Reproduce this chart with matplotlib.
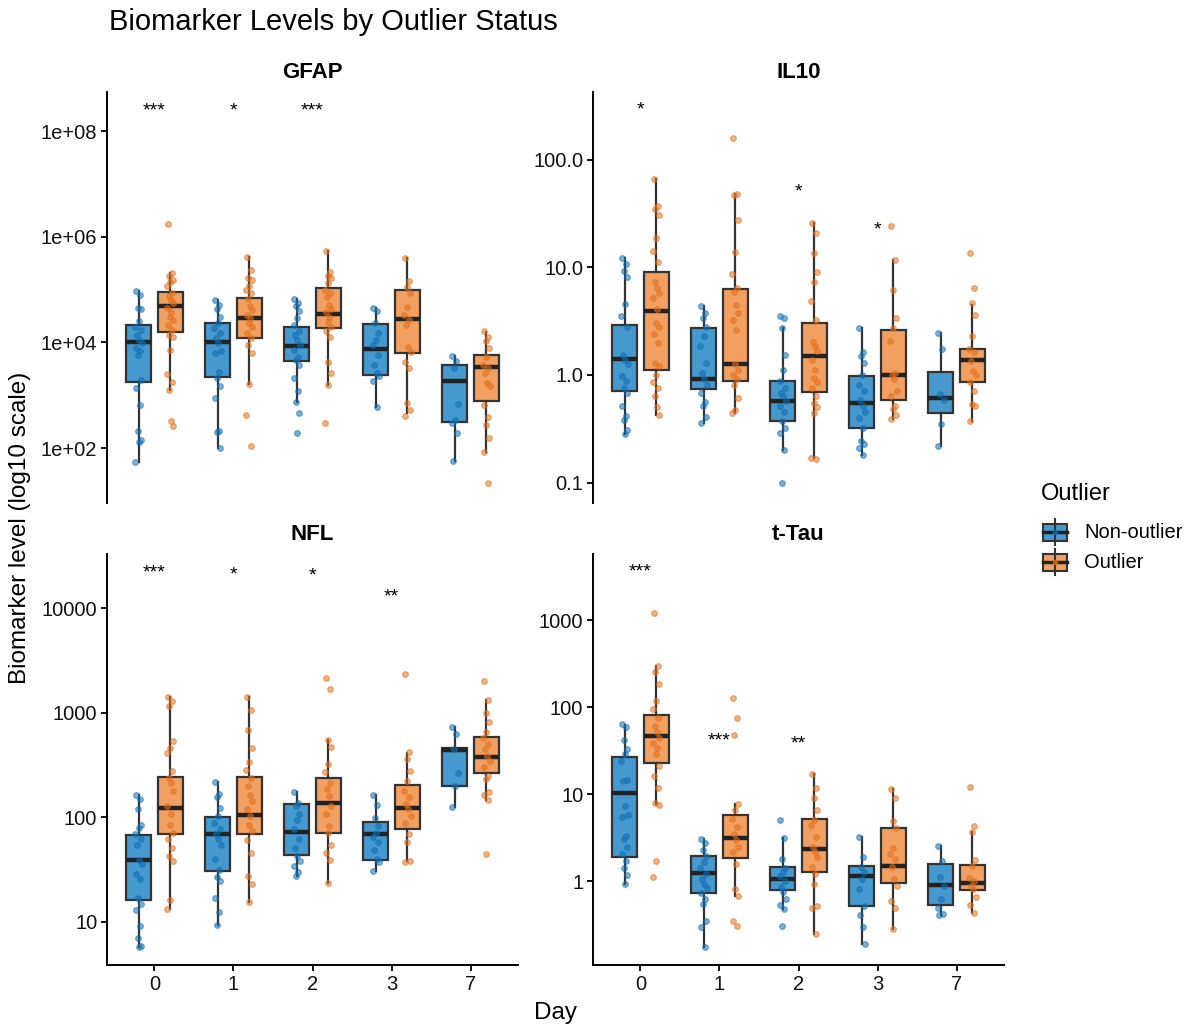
import numpy as np
import matplotlib
matplotlib.use('Agg')
from matplotlib import pyplot as plt
from matplotlib.patches import Rectangle

plt.rcParams['font.family'] = ['Liberation Sans', 'DejaVu Sans']

days = ['0', '1', '2', '3', '7']
groups = ['Non-outlier', 'Outlier']

# values below are read off the log axis, so they are kept as log10
# box stats per day: (lower whisker, q1, median, q3, upper whisker)
gfap_non = [
    [4.97, 4.90, 4.65, 4.63, 4.41, 4.30, 4.24, 4.14, 4.05, 3.99, 3.89, 3.84, 3.77, 3.28, 3.13, 2.81, 2.33, 2.16, 2.12, 1.73],
    [4.80, 4.71, 4.63, 4.49, 4.36, 4.27, 4.17, 4.08, 3.99, 3.83, 3.80, 3.44, 3.32, 3.17, 2.95, 2.33, 2.30, 2.01],
    [4.82, 4.75, 4.68, 4.60, 4.46, 4.33, 4.21, 4.14, 4.05, 3.95, 3.86, 3.73, 3.67, 3.58, 3.32, 3.08, 2.87, 2.66, 2.28],
    [4.65, 4.60, 4.36, 4.17, 4.05, 3.95, 3.77, 3.58, 3.43, 3.36, 3.26, 2.78],
    [3.75, 3.64, 3.51, 2.84, 2.54, 2.47, 2.28, 1.75],
]
gfap_out = [
    [6.24, 5.31, 5.26, 5.18, 5.15, 5.06, 4.93, 4.87, 4.80, 4.74, 4.65, 4.58, 4.49, 4.43, 4.33, 4.24, 4.14, 4.11, 3.85, 3.40, 3.25, 3.09, 2.52, 2.42],
    [5.62, 5.38, 5.21, 5.18, 5.07, 4.99, 4.93, 4.82, 4.68, 4.62, 4.52, 4.46, 4.36, 4.30, 4.17, 4.08, 3.95, 3.80, 3.22, 2.62, 2.03],
    [5.73, 5.33, 5.26, 5.21, 5.12, 4.99, 4.93, 4.86, 4.71, 4.63, 4.58, 4.49, 4.39, 4.30, 4.21, 4.11, 3.63, 3.42, 3.20, 2.47],
    [5.59, 5.17, 5.04, 4.93, 4.67, 4.52, 4.43, 4.33, 3.91, 3.81, 3.62, 3.51, 2.85, 2.72, 2.61],
    [4.21, 4.11, 4.02, 3.89, 3.73, 3.58, 3.51, 3.42, 3.23, 3.18, 2.81, 2.59, 2.44, 2.19, 1.92, 1.34],
]
gfap_box_non = [(1.73, 3.25, 4.00, 4.32, 4.97), (2.01, 3.34, 4.00, 4.36, 4.80), (2.87, 3.64, 3.94, 4.30, 4.82),
                (2.78, 3.39, 3.87, 4.35, 4.65), (1.75, 2.50, 3.27, 3.58, 3.75)]
gfap_box_out = [(3.10, 4.19, 4.69, 4.95, 5.31), (3.22, 4.09, 4.46, 4.84, 5.62), (3.20, 4.27, 4.53, 5.03, 5.73),
                (2.66, 3.80, 4.44, 4.99, 5.59), (1.92, 2.90, 3.53, 3.76, 4.19)]
gfap_stars = [(0, '***', 8.50), (1, '*', 8.50), (2, '***', 8.50)]

il10_non = [
    [1.09, 1.03, 0.97, 0.91, 0.66, 0.55, 0.45, 0.19, 0.14, 0.10, -0.01, -0.06, -0.12, -0.17, -0.29, -0.38, -0.42, -0.51, -0.55],
    [0.64, 0.58, 0.53, 0.45, 0.36, 0.27, 0.11, 0.02, -0.04, -0.09, -0.17, -0.25, -0.29, -0.39, -0.45],
    [0.55, 0.53, 0.44, 0.19, 0.05, -0.06, -0.12, -0.17, -0.20, -0.24, -0.29, -0.34, -0.43, -0.49, -0.54, -0.70, -1.00],
    [0.44, 0.21, 0.18, 0.11, 0.00, -0.09, -0.15, -0.23, -0.29, -0.34, -0.40, -0.49, -0.61, -0.64, -0.68, -0.74],
    [0.39, 0.24, -0.18, -0.23, -0.46, -0.66],
]
il10_out = [
    [1.82, 1.57, 1.54, 1.49, 1.27, 1.15, 1.05, 0.86, 0.81, 0.76, 0.72, 0.61, 0.48, 0.45, 0.38, 0.30, 0.11, 0.08, 0.00, -0.07, -0.12, -0.20, -0.30, -0.37],
    [2.20, 1.68, 1.67, 1.44, 1.14, 0.94, 0.81, 0.77, 0.65, 0.58, 0.51, 0.42, 0.10, 0.05, 0.00, -0.04, -0.09, -0.21, -0.33, -0.35],
    [1.41, 1.32, 1.13, 0.96, 0.86, 0.69, 0.51, 0.31, 0.27, 0.22, 0.14, 0.05, -0.03, -0.07, -0.12, -0.20, -0.26, -0.30, -0.35, -0.77, -0.78],
    [1.38, 1.07, 0.79, 0.53, 0.44, 0.32, 0.02, 0.00, -0.04, -0.15, -0.20, -0.29, -0.32, -0.37, -0.41],
    [1.13, 0.81, 0.67, 0.56, 0.36, 0.24, 0.21, 0.13, 0.04, 0.00, -0.07, -0.15, -0.27, -0.29, -0.43],
]
il10_box_non = [(-0.55, -0.15, 0.15, 0.46, 1.09), (-0.45, -0.13, -0.04, 0.44, 0.64), (-0.70, -0.43, -0.24, -0.06, 0.44),
                (-0.74, -0.49, -0.26, -0.01, 0.44), (-0.66, -0.35, -0.21, 0.03, 0.39)]
il10_box_out = [(-0.37, 0.05, 0.59, 0.96, 1.82), (-0.35, -0.06, 0.10, 0.80, 1.68), (-0.77, -0.16, 0.18, 0.48, 1.41),
                (-0.41, -0.23, 0.00, 0.42, 1.07), (-0.43, -0.07, 0.14, 0.24, 0.65)]
il10_stars = [(0, '*', 2.52), (2, '*', 1.76), (3, '*', 1.41)]

nfl_non = [
    [2.21, 2.18, 2.08, 1.93, 1.90, 1.84, 1.79, 1.74, 1.59, 1.55, 1.46, 1.41, 1.23, 1.17, 1.11, 0.96, 0.85, 0.77, 0.76],
    [2.34, 2.22, 2.19, 2.09, 2.01, 1.95, 1.89, 1.84, 1.79, 1.74, 1.60, 1.50, 1.43, 1.39, 1.23, 1.09, 0.97],
    [2.24, 2.14, 2.11, 2.03, 1.97, 1.89, 1.79, 1.71, 1.63, 1.58, 1.53, 1.48, 1.44],
    [2.21, 2.12, 1.99, 1.92, 1.85, 1.81, 1.76, 1.69, 1.60, 1.57, 1.49],
    [2.86, 2.80, 2.65, 2.42, 2.30, 2.10],
]
nfl_out = [
    [3.15, 3.11, 3.07, 2.73, 2.66, 2.62, 2.44, 2.38, 2.33, 2.25, 2.11, 2.03, 1.93, 1.85, 1.79, 1.71, 1.63, 1.58, 1.21, 1.12],
    [3.15, 3.03, 2.84, 2.66, 2.53, 2.45, 2.38, 2.30, 2.21, 2.16, 2.08, 2.01, 1.93, 1.87, 1.78, 1.66, 1.44, 1.36, 1.19],
    [3.33, 3.23, 2.74, 2.67, 2.51, 2.43, 2.33, 2.27, 2.20, 2.11, 2.03, 1.92, 1.85, 1.74, 1.66, 1.59, 1.37],
    [3.37, 2.63, 2.56, 2.44, 2.35, 2.25, 2.19, 2.13, 2.08, 2.01, 1.95, 1.84, 1.76, 1.58, 1.57],
    [3.30, 3.12, 3.00, 2.91, 2.82, 2.76, 2.70, 2.65, 2.59, 2.54, 2.48, 2.40, 2.37, 2.24, 2.21, 2.17, 1.65],
]
nfl_box_non = [(0.76, 1.21, 1.59, 1.83, 2.21), (0.97, 1.49, 1.84, 2.00, 2.34), (1.44, 1.64, 1.86, 2.13, 2.24),
               (1.49, 1.59, 1.84, 1.96, 2.21), (2.10, 2.30, 2.64, 2.66, 2.86)]
nfl_box_out = [(1.12, 1.84, 2.09, 2.39, 3.15), (1.19, 1.84, 2.02, 2.39, 3.15), (1.37, 1.85, 2.14, 2.38, 2.74),
               (1.58, 1.89, 2.09, 2.31, 2.62), (2.17, 2.42, 2.58, 2.77, 3.12)]
nfl_stars = [(0, '***', 4.40), (1, '*', 4.38), (2, '*', 4.37), (3, '**', 4.17)]

tau_non = [
    [1.81, 1.77, 1.62, 1.52, 1.46, 1.38, 1.17, 1.15, 0.87, 0.76, 0.74, 0.52, 0.49, 0.40, 0.31, 0.24, 0.15, 0.07, -0.03],
    [0.49, 0.44, 0.36, 0.29, 0.22, 0.15, 0.09, 0.03, -0.03, -0.07, -0.13, -0.20, -0.26, -0.45, -0.52, -0.75],
    [0.71, 0.50, 0.26, 0.15, 0.11, 0.06, 0.00, -0.06, -0.12, -0.20, -0.27, -0.32, -0.51],
    [0.51, 0.28, 0.17, 0.11, 0.03, -0.09, -0.28, -0.39, -0.52, -0.72],
    [0.41, 0.24, 0.05, -0.05, -0.20, -0.30, -0.37, -0.39],
]
tau_out = [
    [3.08, 2.47, 2.40, 2.27, 2.07, 1.98, 1.88, 1.79, 1.72, 1.65, 1.59, 1.53, 1.46, 1.33, 1.21, 1.07, 0.90, 0.88, 0.23, 0.05],
    [2.11, 1.88, 1.68, 0.89, 0.82, 0.72, 0.63, 0.55, 0.47, 0.40, 0.34, 0.20, -0.09, -0.17, -0.45, -0.51],
    [1.23, 1.07, 0.96, 0.82, 0.71, 0.65, 0.51, 0.40, 0.34, 0.28, 0.17, 0.09, -0.03, -0.28, -0.31, -0.60],
    [1.06, 0.96, 0.69, 0.61, 0.38, 0.32, 0.26, 0.17, 0.03, -0.05, -0.22, -0.31, -0.55],
    [1.08, 0.64, 0.57, 0.25, 0.18, 0.04, 0.00, -0.05, -0.09, -0.18, -0.27, -0.36],
]
tau_box_non = [(-0.03, 0.28, 1.01, 1.43, 1.80), (-0.75, -0.13, 0.10, 0.29, 0.49), (-0.32, -0.10, 0.03, 0.17, 0.50),
               (-0.72, -0.28, 0.06, 0.18, 0.51), (-0.39, -0.27, -0.04, 0.20, 0.41)]
tau_box_out = [(0.89, 1.36, 1.67, 1.91, 2.47), (-0.17, 0.27, 0.50, 0.76, 0.89), (-0.60, 0.11, 0.37, 0.72, 1.23),
               (-0.55, -0.02, 0.18, 0.61, 1.06), (-0.36, -0.10, -0.02, 0.19, 0.57)]
tau_stars = [(0, '***', 3.63), (1, '***', 1.69), (2, '**', 1.65)]

gfap_ticks = [1e2, 1e4, 1e6, 1e8]
gfap_ticklabels = ['1e+02', '1e+04', '1e+06', '1e+08']
il10_ticks = [0.1, 1, 10, 100]
il10_ticklabels = ['0.1', '1.0', '10.0', '100.0']
nfl_ticks = [10, 100, 1000, 10000]
nfl_ticklabels = ['10', '100', '1000', '10000']
tau_ticks = [1, 10, 100, 1000]
tau_ticklabels = ['1', '10', '100', '1000']

BOX_FILL = ['#4699CE', '#F2A061']
POINT_COL = ['#0E6FB4', '#E2701C']
EDGE = '#333333'
JITTER = [-0.03, 0.02, -0.01, 0.035, 0.0, -0.04, 0.025, -0.02, 0.01, 0.04, -0.035, 0.015, -0.005, 0.03]
DODGE = 0.2


def draw_panel(ax, title, non, out, box_non, box_out, stars, lim, ticks, ticklabels, bottom):
    for g, (pts, boxes) in enumerate([(non, box_non), (out, box_out)]):
        pos = np.arange(len(days)) + (DODGE if g else -DODGE)
        stats = []
        for b in boxes:
            lo, q1, med, q3, hi = [10 ** v for v in b]
            stats.append(dict(whislo=lo, q1=q1, med=med, q3=q3, whishi=hi, fliers=[]))
        ax.bxp(stats, positions=pos, widths=0.32, showcaps=False, showfliers=False,
               patch_artist=True, manage_ticks=False,
               boxprops=dict(facecolor=BOX_FILL[g], edgecolor=EDGE, linewidth=1.6),
               whiskerprops=dict(color=EDGE, linewidth=1.6),
               medianprops=dict(color='#222222', linewidth=3.2, solid_capstyle='butt'))
        for i, vals in enumerate(pts):
            y = 10 ** np.array(vals)
            x = pos[i] + np.array([JITTER[k % len(JITTER)] for k in range(len(y))])
            ax.scatter(x, y, s=17, facecolor=POINT_COL[g], edgecolor=POINT_COL[g],
                       alpha=0.55, linewidth=0.8, zorder=3)
    for d, lab, lev in stars:
        ax.annotate(lab, (d, 10 ** lev), xytext=(0, -8), textcoords='offset points',
                    ha='center', va='baseline', fontsize=14, color='black')
    ax.set_yscale('log')
    ax.set_ylim(10 ** lim[0], 10 ** lim[1])
    ax.set_xlim(-0.6, len(days) - 0.4)
    ax.set_yticks(ticks)
    ax.set_yticklabels(ticklabels)
    ax.yaxis.set_minor_locator(matplotlib.ticker.NullLocator())
    ax.set_xticks(np.arange(len(days)))
    ax.spines['top'].set_visible(False)
    ax.spines['right'].set_visible(False)
    ax.spines['left'].set_linewidth(1.4)
    ax.spines['bottom'].set_linewidth(1.4)
    ax.tick_params(axis='both', length=4, width=1.4, labelsize=14.5, colors='#111111', pad=3)
    if bottom:
        ax.set_xticklabels(days)
    else:
        ax.spines['bottom'].set_visible(False)
        ax.tick_params(axis='x', bottom=False, labelbottom=False)
    ax.annotate(title, (0.5, 1.0), xycoords='axes fraction', xytext=(0, 14),
                textcoords='offset points', ha='center', va='center',
                fontsize=16, fontweight='bold')


def draw_legend(fig):
    lg = fig.add_axes([1030 / 1189, 1 - 580 / 1027, 159 / 1189, 110 / 1027])
    lg.set_xlim(0, 159)
    lg.set_ylim(110, 0)
    lg.axis('off')
    lg.text(11, 24, 'Outlier', fontsize=17, va='center', ha='left')
    for g, yc in enumerate([62, 92]):
        lg.plot([25, 25], [yc - 13, yc + 13], color=EDGE, lw=1.5)
        lg.add_patch(Rectangle((13, yc - 8.5), 24, 17, facecolor=BOX_FILL[g], edgecolor=EDGE, lw=1.5))
        lg.plot([13, 37], [yc, yc], color='#222222', lw=2.5)
        lg.plot([25], [yc], 'o', ms=3, color=POINT_COL[g], alpha=0.7)
        lg.text(54, yc, groups[g], fontsize=14.5, va='center', ha='left')


def run(img='out.png'):
    fig = plt.figure(figsize=(11.89, 10.27), dpi=100)
    W, H = 1189.0, 1027.0
    cols = [107, 593]
    rows = [503, 965]
    pw, ph = 411, 411
    panels = [
        ('GFAP', gfap_non, gfap_out, gfap_box_non, gfap_box_out, gfap_stars, (0.96, 8.74), gfap_ticks, gfap_ticklabels),
        ('IL10', il10_non, il10_out, il10_box_non, il10_box_out, il10_stars, (-1.19, 2.63), il10_ticks, il10_ticklabels),
        ('NFL', nfl_non, nfl_out, nfl_box_non, nfl_box_out, nfl_stars, (0.587, 4.52), nfl_ticks, nfl_ticklabels),
        ('t-Tau', tau_non, tau_out, tau_box_non, tau_box_out, tau_stars, (-0.96, 3.76), tau_ticks, tau_ticklabels),
    ]
    for k, p in enumerate(panels):
        r, c = divmod(k, 2)
        ax = fig.add_axes([cols[c] / W, 1 - rows[r] / H, pw / W, ph / H])
        draw_panel(ax, *p, bottom=(r == 1))

    fig.text(109 / W, 1 - 22 / H, 'Biomarker Levels by Outlier Status', fontsize=21, ha='left', va='center')
    fig.text(20 / W, 1 - 528 / H, 'Biomarker level (log10 scale)', fontsize=17.5, rotation=90,
             ha='center', va='center')
    fig.text(556 / W, 1 - 1013 / H, 'Day', fontsize=17.5, ha='center', va='center')
    draw_legend(fig)
    fig.savefig(img, dpi=100)


if __name__ == '__main__':
    run()
